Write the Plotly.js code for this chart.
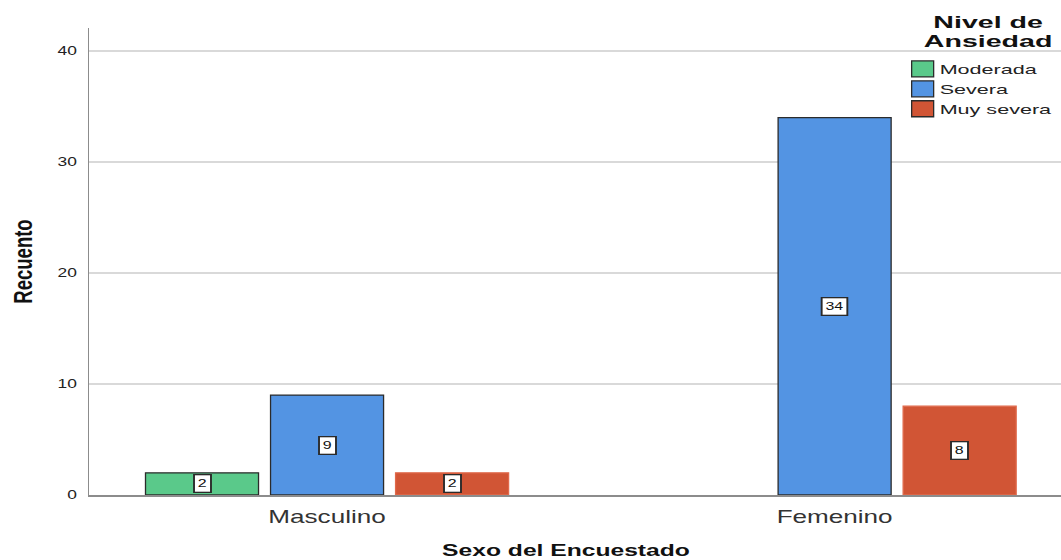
<!DOCTYPE html>
<html>
<head>
<meta charset="utf-8">
<script src="https://cdn.plot.ly/plotly-3.0.1.min.js"></script>
<style>html,body{margin:0;padding:0;background:#fff;}#chart{width:1061px;height:560px;}</style>
</head>
<body>
<div id="chart"></div>
<script>
const categories = ["Masculino", "Femenino"];
const seriesNames = ["Moderada", "Severa", "Muy severa"];
const moderada = [2, null];
const severa = [9, 34];
const muySevera = [2, 8];
const yTicks = [0, 10, 20, 30, 40];

const colors = ["#5ac98a", "#5394e3", "#d15535"];
const lineColors = ["#2b2b2b", "#2b2b2b", "#e0694b"];
const seriesValues = [moderada, severa, muySevera];
const FONT = "Liberation Sans, Arial, sans-serif";

const traces = seriesValues.map((vals, i) => ({
  type: "bar",
  name: seriesNames[i],
  x: categories,
  y: vals,
  marker: {color: colors[i], line: {color: lineColors[i], width: 1.3}},
  hoverinfo: "none"
}));

const BARGAP = 0.261;
const slot = (1 - BARGAP) / 3;
const annotations = [];
seriesValues.forEach((vals, i) => {
  vals.forEach((v, j) => {
    if (v === null || v === undefined) return;
    annotations.push({
      x: j + (i - 1) * slot, y: v / 2, xref: "x", yref: "y",
      text: String(v), showarrow: false,
      font: {family: FONT, size: 11, color: "#111"},
      bgcolor: "#ffffff", bordercolor: "#2a2a2a", borderwidth: 1.3, borderpad: 2
    });
  });
});

const layout = {
  width: 1061, height: 560,
  margin: {l: 89, r: 0, t: 28, b: 65},
  paper_bgcolor: "#ffffff", plot_bgcolor: "#ffffff",
  barmode: "group", bargap: BARGAP, bargroupgap: 0.096,
  font: {family: FONT, color: "#222"},
  xaxis: {
    type: "category", range: [-0.469, 1.446],
    showgrid: false, showline: true, linecolor: "#8c8c8c", linewidth: 1.5,
    ticks: "", tickfont: {size: 18, color: "#333"}, ticklabelstandoff: 5,
    title: {text: "Sexo del Encuestado", font: {size: 17, color: "#111", family: FONT, weight: "bold"}, standoff: 25},
    zeroline: false
  },
  yaxis: {
    range: [0, 42.07], tickvals: yTicks, ticktext: yTicks.map(String),
    showgrid: true, gridcolor: "#d9d9d9", gridwidth: 1.2,
    showline: true, linecolor: "#8c8c8c", linewidth: 1.5,
    ticks: "", tickfont: {size: 12, color: "#222"}, ticklabelstandoff: 8,
    zeroline: false,
    title: {text: "Recuento", font: {size: 25, color: "#111", family: FONT, weight: "bold"}, standoff: 24}
  },
  legend: {
    x: 0.834, xanchor: "left", y: 1.039, yanchor: "top",
    bgcolor: "rgba(0,0,0,0)",
    font: {size: 13, color: "#222"},
    title: {text: "<b>Nivel de<br>Ansiedad</b>", side: "top center", font: {size: 17, color: "#111"}},
    itemwidth: 30, tracegroupgap: 0,
    traceorder: "normal"
  },
  annotations: annotations,
  showlegend: true
};

// horizontal stretch of rendered text, imitating the wide lettering of the original
function stretch(el, s, mode, dx, dy) {
  const bb = el.getBBox();
  let cx = bb.x + bb.width / 2;
  if (mode === "start") cx = bb.x;
  else if (mode === "end") cx = bb.x + bb.width;
  const t = el.getAttribute("transform") || "";
  const pre = (dx || dy) ? "translate(" + (dx || 0) + "," + (dy || 0) + ") " : "";
  el.setAttribute("transform", (pre + t + " translate(" + cx + ",0) scale(" + s + ",1) translate(" + (-cx) + ",0)").trim());
}

function centerLines(el, spacingFactor) {
  const bb = el.getBBox();
  const cx = bb.x + bb.width / 2;
  el.setAttribute("text-anchor", "middle");
  el.style.textAnchor = "middle";
  el.setAttribute("x", cx);
  el.querySelectorAll("tspan.line").forEach((ts, i) => {
    ts.setAttribute("x", cx);
    const dy = ts.getAttribute("dy");
    if (i > 0 && dy && /em$/.test(dy)) {
      ts.setAttribute("dy", (parseFloat(dy) * spacingFactor) + "em");
    }
  });
}

Plotly.newPlot("chart", traces, layout, {displayModeBar: false, staticPlot: true}).then(gd => {
  gd.querySelectorAll(".legend [clip-path]").forEach(e => e.removeAttribute("clip-path"));
  gd.querySelectorAll(".legend").forEach(e => e.removeAttribute("clip-path"));
  gd.querySelectorAll(".xtick text").forEach(el => stretch(el, 1.45, "middle"));
  gd.querySelectorAll(".ytick text").forEach(el => stretch(el, 1.45, "end"));
  gd.querySelectorAll(".g-xtitle text").forEach(el => stretch(el, 1.45, "middle", -9, 0));
  gd.querySelectorAll(".g-ytitle text").forEach(el => stretch(el, 0.74, "middle"));
  gd.querySelectorAll(".legend .legendtext").forEach(el => stretch(el, 1.66, "start"));
  gd.querySelectorAll(".legend .legendtitletext").forEach(el => {
    centerLines(el, 1.15 / 1.3);
    stretch(el, 1.68, "middle", 32, -4);
  });
  gd.querySelectorAll(".annotation .annotation-text-g").forEach(el => stretch(el, 1.45, "middle"));
  gd.querySelectorAll(".legend .legendpoints path").forEach(p => {
    p.setAttribute("d", "M-8,-8H14V8H-8Z");
    p.style.strokeWidth = "1.3px";
    p.style.stroke = "#2b2b2b";
  });
});
</script>
</body>
</html>
